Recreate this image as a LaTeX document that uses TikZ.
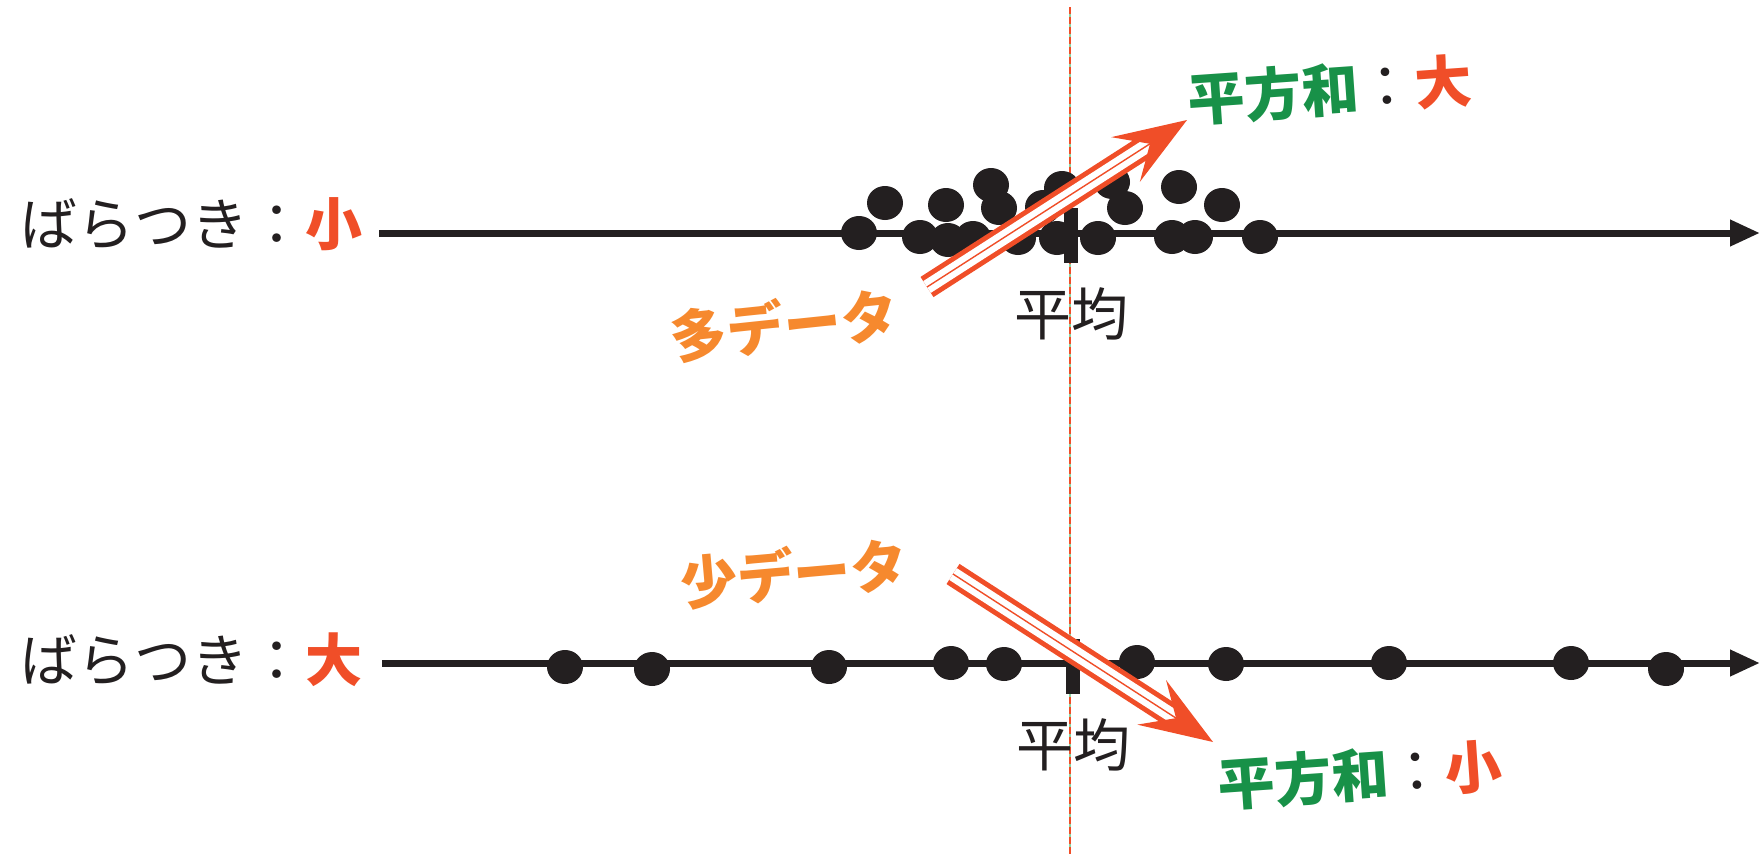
\documentclass[tikz,border=0pt]{standalone}
\usepackage{fontspec}
\setmainfont{Noto Sans CJK JP}
\usepackage{xcolor}
\usetikzlibrary{arrows.meta, positioning, calc}

\definecolor{sqred}{RGB}{240,78,40}
\definecolor{dataorange}{RGB}{246,137,46}
\definecolor{sumgreen}{RGB}{24,145,72}
\definecolor{ink}{RGB}{35,31,32}
\definecolor{guidegreen}{RGB}{140,212,160}

\begin{document}
\begin{tikzpicture}[
  x=1pt, y=-1pt,
  axisline/.style={draw=ink, line width=7pt, -{Triangle[length=30pt, width=25pt]}},
  datum/.style={fill=ink},
  meantick/.style={rectangle, fill=ink, inner sep=0pt, minimum width=14pt, minimum height=55pt},
  jptext/.style={inner sep=0pt, text=ink, font=\fontsize{57}{60}\selectfont},
  jpbold/.style={jptext, font=\fontsize{57}{60}\selectfont\bfseries},
  sqband/.style={draw=sqred, line width=5pt, double=white, double distance=14pt},
  sqcore/.style={draw=sqred, line width=1.4pt, -{Stealth[length=73pt, width=53pt, inset=29pt]}}
]
  \useasboundingbox (0,0) rectangle (1760,854);

  % mean guide
  \coordinate (guideTop) at (1070,7);
  \coordinate (guideBot) at (1070,854);
  \draw[guidegreen, line width=2.5pt] (guideTop) -- (guideBot);
  \draw[sqred, line width=2.5pt, dash pattern=on 7pt off 3pt] (guideTop) -- (guideBot);

  % axes
  \coordinate (smallStart) at (379,233);
  \coordinate (smallEnd) at (1760,233);
  \coordinate (largeStart) at (382,663);
  \coordinate (largeEnd) at (1760,663);
  \draw[axisline] (smallStart) -- (smallEnd);
  \draw[axisline] (largeStart) -- (largeEnd);

  % data points
  \foreach \x/\y in {859/233, 920/237, 948/240, 973/238, 1018/238, 1057/238, 1098/238,
                     1172/237, 1195/237, 1260/237, 885/203, 946/205, 999/208, 1043/207,
                     1125/208, 1222/205, 991/185, 1062/188, 1112/182, 1179/187}
    \fill[datum] (\x,\y) ellipse [x radius=18pt, y radius=17pt];
  \foreach \x/\y in {565/667, 652/669, 829/667, 951/663, 1004/664, 1137/662,
                     1226/664, 1389/663, 1571/663, 1666/669}
    \fill[datum] (\x,\y) ellipse [x radius=18pt, y radius=17pt];

  \node[meantick] (meanT) at (1071,235.5) {};
  \node[meantick] (meanB) at (1073,666.5) {};
  \node[jptext, below=24pt of meanT] (meanTlab) {平均};
  \node[jptext, below=24pt of meanB] (meanBlab) {平均};

  % row labels
  \node[jptext] (spreadS) at (191,224) {ばらつき：\textcolor{sqred}{\bfseries 小}};
  \node[jptext] (spreadL) at (191,660) {ばらつき：\textcolor{sqred}{\bfseries 大}};

  % sum of squares arrows
  \coordinate (manyTail) at (927,287);
  \coordinate (manyTip) at (1187,120);
  \coordinate (manyNotch) at ($(manyTip)!44pt!(manyTail)$);
  \draw[sqband] (manyTail) -- (manyNotch);
  \draw[sqcore] (manyTail) -- (manyTip);

  \coordinate (fewTail) at (953,574);
  \coordinate (fewTip) at (1213,742);
  \coordinate (fewNotch) at ($(fewTip)!44pt!(fewTail)$);
  \draw[sqband] (fewTail) -- (fewNotch);
  \draw[sqcore] (fewTail) -- (fewTip);

  \node[jpbold, text=dataorange, rotate=6] (manyLab) at (784,325) {多データ};
  \node[jpbold, text=dataorange, rotate=5] (fewLab) at (794,573) {少データ};
  \node[jpbold, text=sumgreen, rotate=4] (sumLarge) at (1330,90)
    {平方和\textcolor{ink}{\mdseries ：}\textcolor{sqred}{大}};
  \node[jpbold, text=sumgreen, rotate=4] (sumSmall) at (1360,775)
    {平方和\textcolor{ink}{\mdseries ：}\textcolor{sqred}{小}};
\end{tikzpicture}
\end{document}
